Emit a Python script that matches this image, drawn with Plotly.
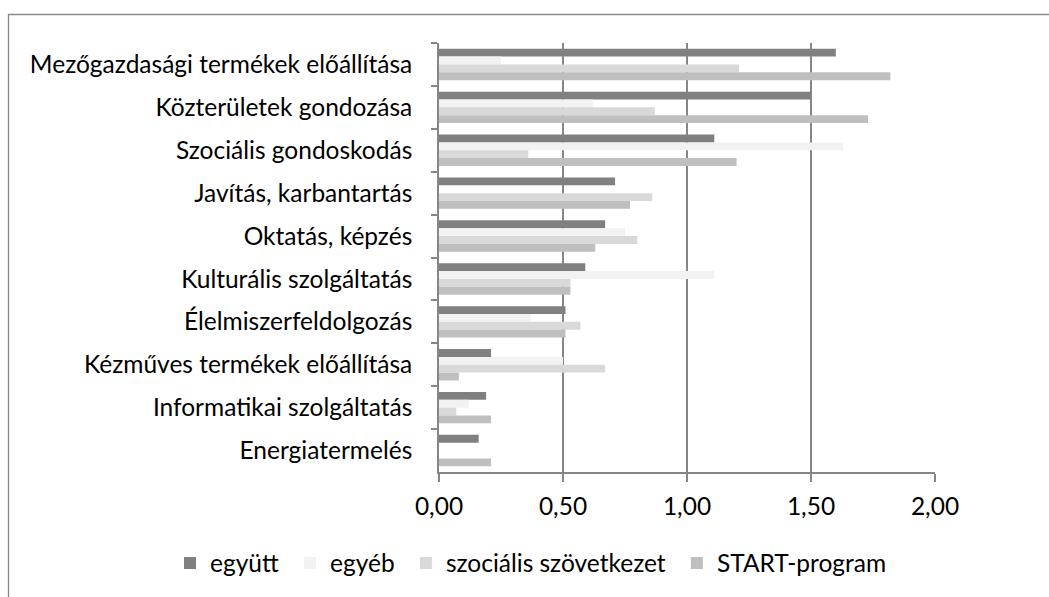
import plotly.graph_objects as go

categories = [
    "Mezőgazdasági termékek előállítása",
    "Közterületek gondozása",
    "Szociális gondoskodás",
    "Javítás, karbantartás",
    "Oktatás, képzés",
    "Kulturális szolgáltatás",
    "Élelmiszerfeldolgozás",
    "Kézműves termékek előállítása",
    "Informatikai szolgáltatás",
    "Energiatermelés",
]
series_names = ["együtt", "egyéb", "szociális szövetkezet", "START-program"]
egyutt = [1.60, 1.50, 1.11, 0.71, 0.67, 0.59, 0.51, 0.21, 0.19, 0.16]
egyeb = [0.25, 0.62, 1.63, 0.00, 0.75, 1.11, 0.37, 0.50, 0.12, 0.00]
szocialis = [1.21, 0.87, 0.36, 0.86, 0.80, 0.53, 0.57, 0.67, 0.07, 0.00]
start = [1.82, 1.73, 1.20, 0.77, 0.63, 0.53, 0.51, 0.08, 0.21, 0.21]
x_ticks = [0, 0.5, 1.0, 1.5, 2.0]

colors = ["#808080", "#f2f2f2", "#d9d9d9", "#bfbfbf"]
values = [egyutt, egyeb, szocialis, start]

FONT = "Lato, Carlito, Calibri, sans-serif"
FS = 24.5
PAD = "\u00a0"
LINE = "#868686"
LW = 1.7
fig = go.Figure()
for i, (name, vals, col) in enumerate(zip(series_names, values, colors)):
    label = name + (PAD if i < len(series_names) - 1 else "")
    fig.add_trace(go.Bar(
        y=categories, x=vals, name=label, orientation="h",
        marker=dict(color=col, line=dict(width=0)),
    ))

W, H = 1049, 597
L, R, T, B = 439, 935, 43, 472
pw, ph = R - L, B - T
def px_x(p):
    return (p - L) / pw
def px_y(p):
    return (B - p) / ph

fig.update_layout(
    width=W, height=H,
    margin=dict(l=L, r=W - R, t=T, b=H - B, pad=0, autoexpand=False),
    barmode="group", bargap=0.267, bargroupgap=0,
    plot_bgcolor="white", paper_bgcolor="white",
    separators=", ",
    font=dict(family=FONT, size=FS, color="#000000"),
    showlegend=True,
    legend=dict(orientation="h", x=px_x(170), xanchor="left", y=px_y(563), yanchor="middle",
                font=dict(size=FS, family=FONT), traceorder="normal",
                itemwidth=30, bgcolor="rgba(0,0,0,0)"),
    xaxis=dict(range=[0, 2.0], tickvals=x_ticks, tickformat=".2f",
               showgrid=True, gridcolor=LINE, gridwidth=LW,
               showline=True, linecolor=LINE, linewidth=LW,
               ticks="outside", ticklen=8, tickcolor=LINE, tickwidth=LW,
               zeroline=False, ticklabelstandoff=4),
    yaxis=dict(autorange="reversed", type="category",
               showline=True, linecolor=LINE, linewidth=LW,
               ticks="outside", ticklen=6, tickcolor=LINE, tickwidth=LW,
               tickson="boundaries", showgrid=False, ticklabelstandoff=20),
)

fig.add_shape(type="rect", xref="paper", yref="paper",
              x0=px_x(8.5), x1=px_x(1070), y0=px_y(14.5), y1=px_y(620),
              line=dict(color="#888888", width=1.3), fillcolor="rgba(0,0,0,0)", layer="below")

fig.write_html("out.html", config={"displayModeBar": False},
               post_script="document.body.style.margin='0';")
